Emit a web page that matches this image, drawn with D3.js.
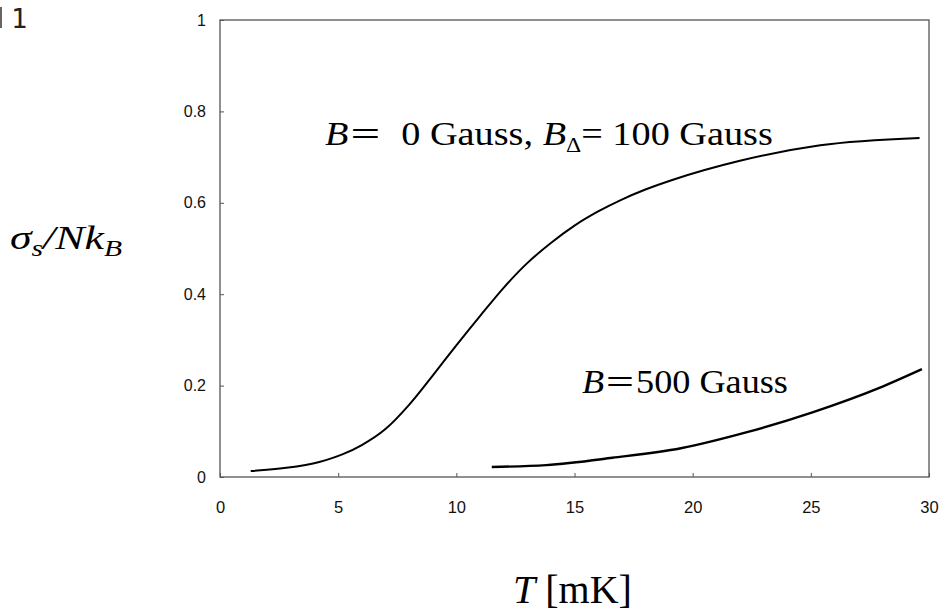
<!DOCTYPE html>
<html>
<head>
<meta charset="utf-8">
<script src="https://cdn.jsdelivr.net/npm/d3@7"></script>
<style>
  body { margin: 0; background: #fff; }
  svg { display: block; }
  text { white-space: pre; }
</style>
</head>
<body>
<div id="chart"></div>
<script>
// tick labels
const xTicks = [0, 5, 10, 15, 20, 25, 30];
const yTicks = [0, 0.2, 0.4, 0.6, 0.8, 1];

// B = 0 Gauss, B_delta = 100 Gauss  (T in mK, sigma_s / N k_B)
const zeroFieldT   = [1.3, 2.8, 4.2, 5.2, 6.0, 7.0, 8.0, 9.0, 10.0, 11.0, 12.0, 13.0, 14.0, 15.0, 16.0, 17.0, 18.0, 19.2, 22.0, 25.4, 29.6];
const zeroFieldVal = [0.013, 0.020, 0.033, 0.050, 0.070, 0.105, 0.158, 0.222, 0.288, 0.352, 0.414, 0.468, 0.512, 0.550, 0.581, 0.607, 0.629, 0.651, 0.692, 0.726, 0.742];

// B = 500 Gauss
const highFieldT   = [11.5, 13.8, 16.6, 19.5, 22.3, 25.1, 27.9, 29.7];
const highFieldVal = [0.022, 0.026, 0.042, 0.063, 0.098, 0.142, 0.195, 0.236];

const W = 944, H = 613;
const margin = {top: 20, right: 15, bottom: 136, left: 220};
const width = W - margin.left - margin.right,
      height = H - margin.top - margin.bottom;

const svg = d3.select("#chart").append("svg")
    .attr("width", W)
    .attr("height", H);

// stretch a label horizontally so it spans w pixels from (x0, y0)
function fitWidth(sel, x0, y0, w) {
  const bw = sel.node().getBBox().width;
  sel.attr("transform", `translate(${x0},${y0}) scale(${w / bw},1)`);
}

// corner remnant of the figure number
svg.append("line")
    .attr("x1", 1).attr("x2", 1).attr("y1", 7).attr("y2", 28)
    .attr("stroke", "#333").attr("stroke-width", 1.5);
svg.append("text")
    .attr("x", 11).attr("y", 28)
    .style("font-family", "DejaVu Sans Mono, monospace")
    .style("font-size", "27px")
    .attr("fill", "#222")
    .text("1");

const g = svg.append("g")
    .attr("transform", `translate(${margin.left},${margin.top})`);

const x = d3.scaleLinear().domain([0, 30]).range([0, width]);
const y = d3.scaleLinear().domain([0, 1]).range([height, 0]);

// frame
g.append("rect")
    .attr("x", 0).attr("y", 0)
    .attr("width", width).attr("height", height)
    .attr("fill", "none")
    .attr("stroke", "#555")
    .attr("stroke-width", 1.3);

const tickFont = "Liberation Sans, Arial, sans-serif";

// x axis: inward ticks
const xAxis = g.append("g")
    .attr("transform", `translate(0,${height})`)
    .call(d3.axisBottom(x).tickValues(xTicks).tickSizeInner(-4).tickSizeOuter(0).tickPadding(24)
      .tickFormat(d3.format("d")));
xAxis.select(".domain").remove();
xAxis.selectAll("line").attr("stroke", "#555");
xAxis.selectAll("text")
    .style("font-family", tickFont)
    .style("font-size", "16.5px")
    .attr("fill", "#111");

// y axis: inward ticks
const yAxis = g.append("g")
    .call(d3.axisLeft(y).tickValues(yTicks).tickSizeInner(-4).tickSizeOuter(0).tickPadding(14)
      .tickFormat(d => d === 0 || d === 1 ? d3.format("d")(d) : d3.format(".1f")(d)));
yAxis.select(".domain").remove();
yAxis.selectAll("line").attr("stroke", "#555");
yAxis.selectAll("text")
    .style("font-family", tickFont)
    .style("font-size", "16px")
    .attr("fill", "#111");

const line = d3.line()
    .x(d => x(d[0]))
    .y(d => y(d[1]))
    .curve(d3.curveMonotoneX);

g.append("path")
    .datum(d3.zip(zeroFieldT, zeroFieldVal))
    .attr("fill", "none")
    .attr("stroke", "#000")
    .attr("stroke-width", 2)
    .attr("d", line);

g.append("path")
    .datum(d3.zip(highFieldT, highFieldVal))
    .attr("fill", "none")
    .attr("stroke", "#000")
    .attr("stroke-width", 2.4)
    .attr("d", line);

// curve labels
const serif = "Liberation Serif, Times New Roman, serif";
const eqFont = "Noto Sans CJK JP, sans-serif";
const lab1 = svg.append("text")
    .style("font-family", serif).style("font-size", "34px")
    .attr("fill", "#000");
lab1.append("tspan").style("font-style", "italic").text("B");
lab1.append("tspan").style("font-family", eqFont).style("font-size", "30px").text("\uff1d");
lab1.append("tspan").text("  0 Gauss, ");
lab1.append("tspan").style("font-style", "italic").text("B");
lab1.append("tspan").attr("dy", 7).style("font-size", "21px").text("\u0394");
lab1.append("tspan").attr("dy", -7).text("= 100 Gauss");
fitWidth(lab1, 325, 145, 448);

const lab2 = svg.append("text")
    .style("font-family", serif).style("font-size", "34px")
    .attr("fill", "#000");
lab2.append("tspan").style("font-style", "italic").text("B");
lab2.append("tspan").style("font-family", eqFont).style("font-size", "30px").text("\uff1d");
lab2.append("tspan").text("500 Gauss");
fitWidth(lab2, 582, 393, 206);

// axis titles
const yl = svg.append("text")
    .style("font-family", serif).style("font-size", "34px")
    .style("font-style", "italic")
    .attr("fill", "#000");
yl.append("tspan").text("\u03c3");
yl.append("tspan").attr("dy", 7).style("font-size", "23px").text("s");
yl.append("tspan").attr("dy", -7).text("/Nk");
yl.append("tspan").attr("dy", 7).style("font-size", "23px").text("B");
fitWidth(yl, 10, 249, 112);

const xl = svg.append("text")
    .attr("x", 513).attr("y", 603)
    .style("font-family", serif).style("font-size", "40px")
    .attr("fill", "#000");
xl.append("tspan").style("font-style", "italic").text("T");
xl.append("tspan").text(" [mK]");
</script>
</body>
</html>
